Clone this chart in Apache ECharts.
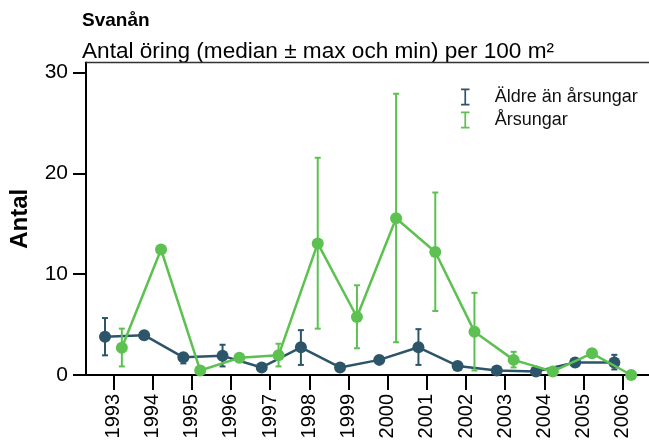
<!DOCTYPE html>
<html style="height: 100%">

<head>
    <meta charset="utf-8">
</head>

<body style="height: 100%; margin: 0; background: #fff">
    <div id="container" style="width: 649px; height: 443px"></div>
    <script src="https://cdn.jsdelivr.net/npm/echarts@6/dist/echarts.min.js"></script>
    <script type="text/javascript">
        // data
        var years = [1993, 1994, 1995, 1996, 1997, 1998, 1999, 2000, 2001, 2002, 2003, 2004, 2005, 2006];
        var aldreMedian = [3.8, 3.95, 1.75, 1.9, 0.75, 2.75, 0.75, 1.5, 2.75, 0.9, 0.45, 0.35, 1.25, 1.25];
        var aldreMin = [1.95, null, 1.15, 0.85, null, 1.0, null, null, 1.0, null, null, null, null, 0.55];
        var aldreMax = [5.65, null, 2.1, 3.0, null, 4.45, null, null, 4.55, null, null, null, null, 2.0];
        var arsMedian = [2.7, 12.45, 0.45, 1.7, 1.95, 13.05, 5.75, 15.55, 12.2, 4.3, 1.5, 0.35, 2.15, 0];
        var arsMin = [0.85, null, null, null, 0.85, 4.6, 2.65, 3.25, 6.35, 0.45, 0.75, null, null, null];
        var arsMax = [4.6, null, null, null, 3.1, 21.55, 8.9, 27.9, 18.1, 8.15, 2.3, null, null, null];

        var names = ['Äldre än årsungar', 'Årsungar'];
        var colors = ['#2d5569', '#5cc150'];
        var DODGE = 0.215; // sidewise shift of the two groups, in years
        var X_MIN = 1992.3, X_MAX = 2006.67, Y_MAX = 31;
        var font = 'Liberation Sans, Arial, sans-serif';

        function linePoints(vals, shift) {
            return years.map(function (y, i) { return [y + shift, vals[i]]; });
        }
        function barPoints(mins, maxs, shift) {
            var out = [];
            years.forEach(function (y, i) {
                if (mins[i] != null) out.push([y + shift, mins[i], maxs[i]]);
            });
            return out;
        }
        function errorBar(color) {
            return function (params, api) {
                var lo = api.coord([api.value(0), api.value(1)]);
                var hi = api.coord([api.value(0), api.value(2)]);
                var st = { stroke: color, lineWidth: 2 };
                var w = 3;
                return {
                    type: 'group',
                    children: [
                        { type: 'line', shape: { x1: lo[0], y1: lo[1], x2: hi[0], y2: hi[1] }, style: st },
                        { type: 'line', shape: { x1: lo[0] - w, y1: lo[1], x2: lo[0] + w, y2: lo[1] }, style: st },
                        { type: 'line', shape: { x1: hi[0] - w, y1: hi[1], x2: hi[0] + w, y2: hi[1] }, style: st }
                    ]
                };
            };
        }

        var barIcon = 'path://M0,0h8v1.6h-3.2v12.8h3.2v1.6h-8v-1.6h3.2v-12.8h-3.2z';

        var dom = document.getElementById("container");
        var myChart = echarts.init(dom);
        var option = {
            animation: false,
            title: [{
                text: 'Svanån',
                left: 82, top: 11, padding: 0,
                textStyle: { fontFamily: font, fontSize: 19, fontWeight: 'bold', color: '#000' }
            }, {
                text: 'Antal öring (median ± max och min) per 100 m²',
                left: 82, top: 40, padding: 0,
                textStyle: { fontFamily: font, fontSize: 22.6, fontWeight: 'normal', color: '#000' }
            }],
            legend: {
                orient: 'vertical',
                left: 456, top: 83,
                itemWidth: 9, itemHeight: 17, itemGap: 5,
                textStyle: { fontFamily: font, fontSize: 18, color: '#111', padding: [0, 0, 0, 20] },
                data: [
                    { name: names[0], icon: barIcon, itemStyle: { color: colors[0] } },
                    { name: names[1], icon: barIcon, itemStyle: { color: colors[1] } }
                ]
            },
            grid: { left: 81.7, right: 0, top: 62.5, bottom: 68 },
            xAxis: {
                type: 'value',
                min: X_MIN, max: X_MAX,
                interval: 1,
                splitLine: { show: false },
                axisLine: { onZero: false, lineStyle: { color: '#000', width: 2 } },
                axisTick: { length: 15, lineStyle: { color: '#000', width: 2 }, customValues: years },
                axisLabel: {
                    rotate: 90, margin: 19, fontFamily: font, fontSize: 20, color: '#000',
                    customValues: years,
                    formatter: function (v) { return String(v); }
                }
            },
            yAxis: {
                type: 'value',
                min: 0, max: Y_MAX,
                interval: 10,
                name: 'Antal',
                nameLocation: 'middle',
                nameGap: 54,
                nameTextStyle: { fontFamily: font, fontSize: 24, fontWeight: 'bold', color: '#000' },
                splitLine: { show: false },
                axisLine: { show: true, lineStyle: { color: '#000', width: 2 } },
                axisTick: { show: true, length: 13, lineStyle: { color: '#000', width: 2 }, customValues: [0, 10, 20, 30] },
                axisLabel: { margin: 18, fontFamily: font, fontSize: 21, color: '#000', customValues: [0, 10, 20, 30] }
            },
            series: [{
                name: names[0], type: 'custom',
                renderItem: errorBar(colors[0]),
                data: barPoints(aldreMin, aldreMax, -DODGE),
                encode: { x: 0, y: [1, 2] }, z: 2
            }, {
                name: names[0], type: 'line',
                data: linePoints(aldreMedian, -DODGE),
                symbol: 'circle', symbolSize: 12,
                lineStyle: { color: colors[0], width: 2.5 },
                itemStyle: { color: colors[0] },
                clip: false, z: 3
            }, {
                name: names[1], type: 'custom',
                renderItem: errorBar(colors[1]),
                data: barPoints(arsMin, arsMax, DODGE),
                encode: { x: 0, y: [1, 2] }, z: 4
            }, {
                name: names[1], type: 'line',
                data: linePoints(arsMedian, DODGE),
                symbol: 'circle', symbolSize: 12,
                lineStyle: { color: colors[1], width: 2.5 },
                itemStyle: { color: colors[1] },
                clip: false, z: 5
            }]
        };
        myChart.setOption(option);

        // frame line along the top of the plot, placed through the axis scales
        var a = myChart.convertToPixel({ gridIndex: 0 }, [X_MIN, Y_MAX]);
        var b = myChart.convertToPixel({ gridIndex: 0 }, [X_MAX, Y_MAX]);
        myChart.setOption({
            graphic: [{
                type: 'line', silent: true, z: 10,
                shape: { x1: a[0], y1: a[1], x2: b[0], y2: b[1] },
                style: { stroke: '#333', lineWidth: 1.5 }
            }]
        });
    </script>
</body>

</html>
